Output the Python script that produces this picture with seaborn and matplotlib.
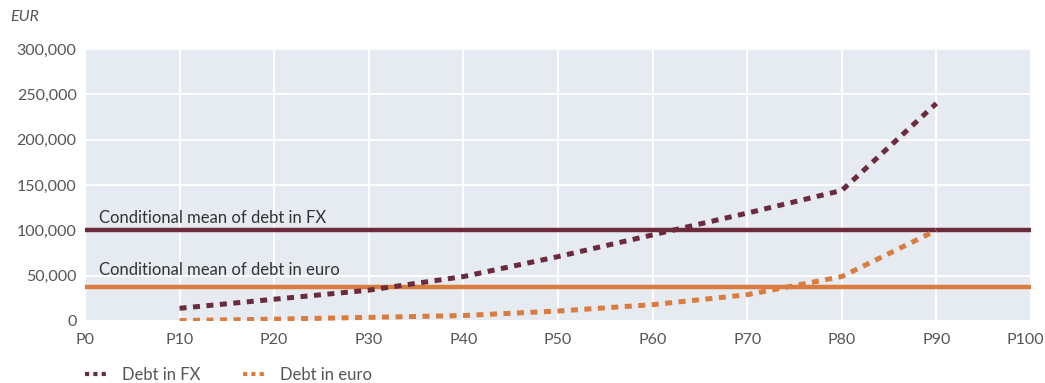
import matplotlib
matplotlib.use("Agg")
import matplotlib.pyplot as plt
import matplotlib.transforms as mtransforms
import seaborn as sns
import pandas as pd
from matplotlib.ticker import FuncFormatter
from matplotlib.lines import Line2D

# Debt by percentile of the debt distribution
percentiles = [10, 20, 30, 40, 50, 60, 70, 80, 90]
debt_fx = [14000, 24000, 34000, 49000, 71000, 95000, 119000, 144000, 240000]
debt_euro = [500, 2000, 4000, 6000, 11000, 18000, 29000, 49000, 100000]
mean_fx = 100000
mean_euro = 38000
x_ticks = list(range(0, 101, 10))
x_tick_labels = [f"P{p}" for p in x_ticks]
y_ticks = list(range(0, 300001, 50000))

c_fx = "#6b2b3d"
c_euro = "#d97c3e"
bg = "#e6ebf2"
txt = "#555555"

sns.set_theme(style="darkgrid", rc={"axes.facecolor": bg, "grid.color": "white",
                                     "grid.linewidth": 1.4})
plt.rcParams["font.family"] = ["Lato", "DejaVu Sans"]

df = pd.DataFrame({
    "pct": percentiles * 2,
    "debt": debt_fx + debt_euro,
    "series": ["Debt in FX"] * len(percentiles) + ["Debt in euro"] * len(percentiles),
})

fig = plt.figure(figsize=(10.45, 3.83), dpi=100)
ax = fig.add_axes([0.0813, 0.1619, 0.9053, 0.7101])

sns.lineplot(data=df, x="pct", y="debt", hue="series", style="series",
             palette={"Debt in FX": c_fx, "Debt in euro": c_euro},
             dashes={"Debt in FX": (1.4, 1.3), "Debt in euro": (1.4, 1.3)},
             linewidth=3.6, ax=ax, legend=False, zorder=3)

ax.axhline(mean_fx, color=c_fx, linewidth=3.2, zorder=2)
ax.axhline(mean_euro, color=c_euro, linewidth=3.2, zorder=2)
ax.text(1.5, mean_fx + 4500, "Conditional mean of debt in FX", fontsize=12,
        color="#333333", va="bottom", ha="left")
ax.text(1.5, mean_euro + 9000, "Conditional mean of debt in euro", fontsize=12,
        color="#333333", va="bottom", ha="left")

ax.set_xlim(0, 100)
ax.set_ylim(0, 300000)
ax.set_xticks(x_ticks)
ax.set_xticklabels(x_tick_labels)
ax.set_yticks(y_ticks)
ax.yaxis.set_major_formatter(FuncFormatter(lambda v, _: f"{int(v):,}"))
ax.tick_params(axis="both", labelsize=11.5, colors=txt, length=0, pad=6)
ax.tick_params(axis="x", pad=9)
ax.set_xlabel("")
ax.set_ylabel("")
for s in ax.spines.values():
    s.set_visible(False)

# keep the last x label inside the figure
last = ax.get_xticklabels()[-1]
last.set_transform(last.get_transform() +
                   mtransforms.ScaledTranslation(-6 / 100, 0, fig.dpi_scale_trans))

fig.text(0.010, 0.955, "EUR", fontsize=11.5, style="italic", color=txt,
         ha="left", va="center")

handles = [Line2D([], [], color=c_fx, linewidth=3.0, dashes=(1.0, 1.0)),
           Line2D([], [], color=c_euro, linewidth=3.0, dashes=(1.0, 1.0))]
fig.legend(handles, ["Debt in FX", "Debt in euro"], loc="center left",
           bbox_to_anchor=(0.0813, 0.021), ncol=2, frameon=False, fontsize=12,
           labelcolor=txt, handlelength=1.45, columnspacing=2.6,
           handletextpad=0.75, borderpad=0, borderaxespad=0)

fig.savefig("out.png", dpi=100, facecolor="white")
